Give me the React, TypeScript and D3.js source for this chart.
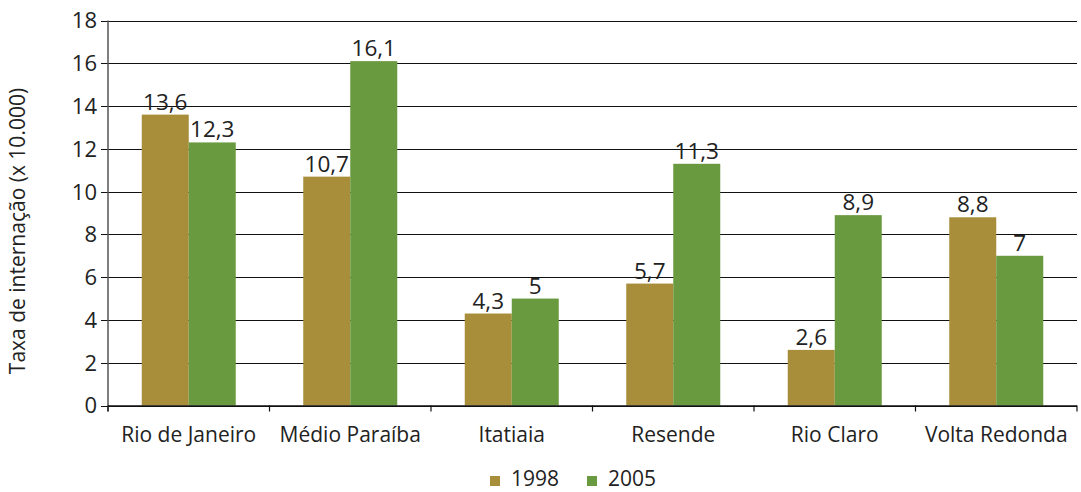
import React from "react";
import * as d3 from "d3";

const categories = ["Rio de Janeiro", "Médio Paraíba", "Itatiaia", "Resende", "Rio Claro", "Volta Redonda"];
const series1998 = [13.6, 10.7, 4.3, 5.7, 2.6, 8.8];
const series2005 = [12.3, 16.1, 5, 11.3, 8.9, 7];
const seriesNames = ["1998", "2005"];
const yTicks = [0, 2, 4, 6, 8, 10, 12, 14, 16, 18];
const yTitle = "Taxa de internação (x 10.000)";

const colors = ["#A88E3A", "#6A9A40"];
const font = "'Open Sans', sans-serif";

export default function App() {
  const W = 1081, H = 492;
  const left = 108, right = 1077, top = 20.5, bottom = 405.5;
  const x = d3.scaleBand<string>().domain(categories).range([left, right]).paddingInner(0).paddingOuter(0);
  const y = d3.scaleLinear().domain([0, 18]).range([bottom, top]);
  const barW = 47;
  const data = [series1998, series2005];
  const fmt = (v: number) => String(v).replace(".", ",");
  return (
    <svg width={W} height={H} style={{ position: "absolute", left: 0, top: 0, fontFamily: font }}>
      <rect width={W} height={H} fill="#fff" />
      {yTicks.map((t) => (
        <g key={t}>
          <line x1={101} x2={right} y1={Math.round(y(t)) + 0.5} y2={Math.round(y(t)) + 0.5} stroke="#111" strokeWidth={1.2} />
          <text x={97} y={y(t)} dy="0.36em" textAnchor="end" fontSize={22} fill="#222">{t}</text>
        </g>
      ))}
      {categories.map((c, i) => {
        const cx = x(c)! + x.bandwidth() / 2;
        return (
          <g key={c}>
            {data.map((s, j) => {
              const bx = cx - barW + j * barW;
              return (
                <g key={j}>
                  <rect x={bx} y={y(s[i])} width={barW} height={bottom - y(s[i])} fill={colors[j]} />
                  <text x={bx + barW / 2} y={y(s[i]) - 5} textAnchor="middle" fontSize={22.5} fill="#222">{fmt(s[i])}</text>
                </g>
              );
            })}
            <text x={cx} y={442} textAnchor="middle" fontSize={21} fill="#222">{c}</text>
          </g>
        );
      })}
      {/* axes */}
      <line x1={left} x2={left} y1={top} y2={bottom + 6} stroke="#555" strokeWidth={1.5} />
      <line x1={left} x2={right} y1={bottom + 0.5} y2={bottom + 0.5} stroke="#111" strokeWidth={1.5} />
      {d3.range(categories.length + 1).map((i) => {
        const tx = left + i * x.bandwidth();
        return <line key={i} x1={tx} x2={tx} y1={bottom} y2={bottom + 6} stroke="#111" strokeWidth={1.2} />;
      })}
      <text transform={`translate(25, ${(top + bottom) / 2 + 18}) rotate(-90)`} textAnchor="middle" fontSize={21} fill="#222">{yTitle}</text>
      {/* legend */}
      {seriesNames.map((n, j) => {
        const lx = [490, 587][j];
        return (
          <g key={n}>
            <rect x={lx} y={476} width={10} height={10} fill={colors[j]} />
            <text x={lx + 21} y={486} fontSize={21} fill="#222">{n}</text>
          </g>
        );
      })}
    </svg>
  );
}
